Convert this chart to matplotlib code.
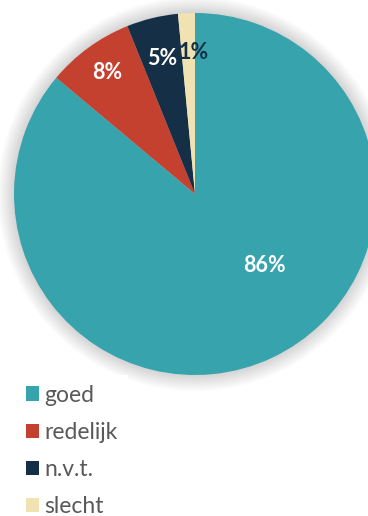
import matplotlib
matplotlib.use("Agg")
import matplotlib.pyplot as plt
from matplotlib.patches import Circle, Patch
import numpy as np

categories = ["goed", "redelijk", "n.v.t.", "slecht"]
values = [86.1, 7.8, 4.6, 1.5]
labels_txt = ["86%", "8%", "5%", "1%"]
colors = ["#36A3AD", "#C5412F", "#153046", "#F1E3B1"]
label_colors = ["white", "white", "white", "#153046"]

W, H = 368, 516
fig = plt.figure(figsize=(W / 100, H / 100), dpi=100)
fig.patch.set_facecolor("white")

cx, cy, R = 195, 194, 181
ax = fig.add_axes([(cx - R) / W, (H - cy - R) / H, 2 * R / W, 2 * R / H])

# soft shadow
n = 14
for i in range(n):
    r = 1.0 + 0.09 * (i + 1) / n
    ax.add_patch(Circle((0, 0), r, facecolor="black", edgecolor="none",
                        alpha=0.012, zorder=0, clip_on=False))

wedges, texts = ax.pie(values, colors=colors, startangle=90, counterclock=False,
                       radius=1.0, wedgeprops=dict(linewidth=0))
for w in wedges:
    w.set_clip_on(False)
    w.set_zorder(2)
ax.set_xlim(-1, 1)
ax.set_ylim(-1, 1)
ax.set_aspect("equal")
ax.axis("off")

# labels
angles = []
start = 90.0
total = sum(values)
for v in values:
    span = 360.0 * v / total
    angles.append(start - span / 2)
    start -= span
label_r = [0.55, 0.83, 0.77, 0.78]
label_ang = [-45.8, angles[1], angles[2], 90.4]
for t, c, a, r in zip(labels_txt, label_colors, label_ang, label_r):
    ax.text(r * np.cos(np.radians(a)), r * np.sin(np.radians(a)), t,
            ha="center", va="center", color=c, fontsize=15.5,
            fontweight="bold", family=["Lato", "DejaVu Sans"], zorder=5)

fs = 16.5
handles = [Patch(facecolor=c, edgecolor="none") for c in colors]
leg = fig.legend(handles, categories, loc="upper left",
                 bbox_to_anchor=(16 / W, (H - 375) / H), frameon=True,
                 prop=dict(family=["Lato", "DejaVu Sans"], size=fs),
                 handlelength=0.57, handleheight=0.57, handletextpad=0.26,
                 labelspacing=0.7, borderpad=0.42, borderaxespad=0,
                 fancybox=False)
leg.get_frame().set_facecolor("white")
leg.get_frame().set_edgecolor("none")
leg.get_frame().set_alpha(1)
for t in leg.get_texts():
    t.set_color("#595959")

fig.savefig("out.png", dpi=100, facecolor="white")
